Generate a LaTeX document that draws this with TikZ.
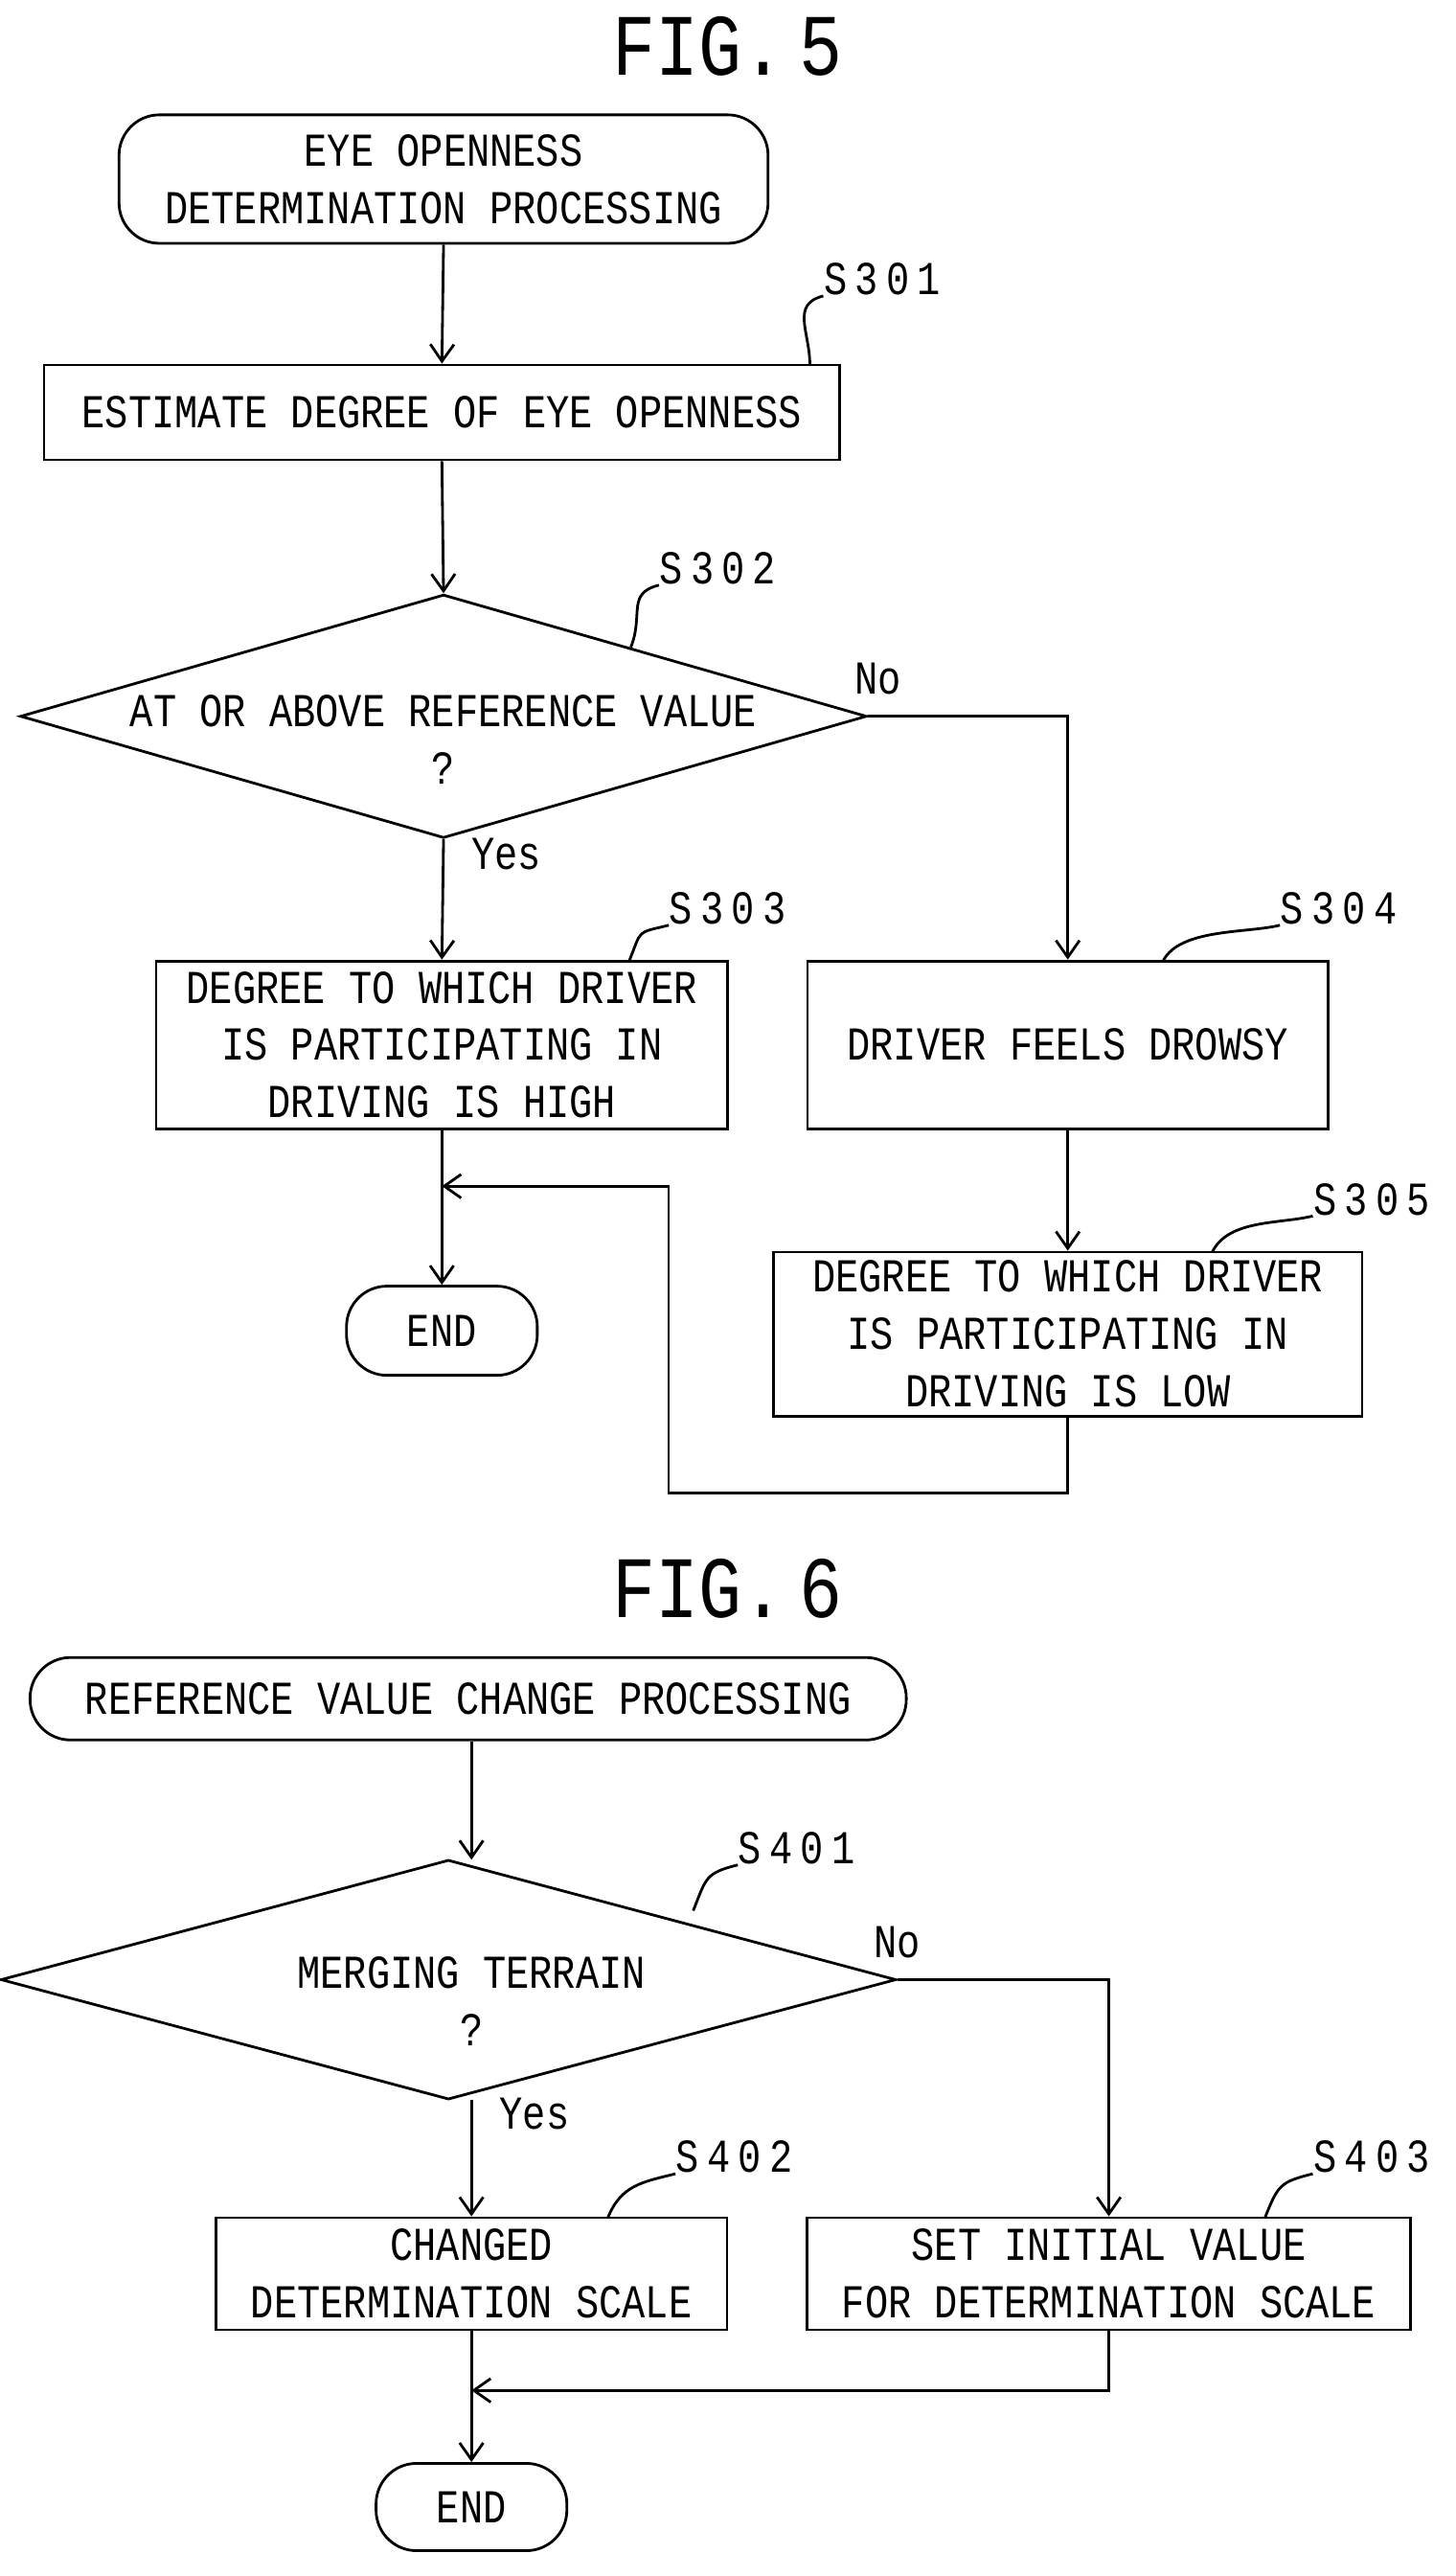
\documentclass[tikz,border=0pt]{standalone}
\usepackage{fontspec}
\setmainfont{Liberation Mono}[FakeStretch=0.82]
\usetikzlibrary{shapes.geometric,arrows.meta}
\begin{document}
\begin{tikzpicture}[x=0.01714cm,y=-0.01714cm,
  every node/.style={font=\fontsize{14}{17}\selectfont,align=center,inner sep=0pt},
  box/.style={draw,line width=0.8pt},
  term/.style={draw,line width=0.8pt,rounded corners=12pt},
  line/.style={line width=0.8pt},
  arr/.style={line width=0.8pt,-{Straight Barb[length=5pt,width=7pt]}},
  lab/.style={font=\fontsize{14}{17}\selectfont},
  fig/.style={font=\fontsize{26}{30}\selectfont}]
\useasboundingbox (0,0) rectangle (886,1568);
% FIG 5
\node[fig] (f5) at (443,28) {FIG.\,5};
\node[term,minimum width=6.77cm,minimum height=1.34cm] (st) at (270,109) {EYE OPENNESS\\DETERMINATION PROCESSING};
\node[box,minimum width=8.3cm,minimum height=0.99cm] (s301) at (269,251) {ESTIMATE DEGREE OF EYE OPENNESS};
\node[draw,diamond,aspect=3.48,line width=0.8pt,minimum width=8.83cm,minimum height=2.54cm] (s302) at (270,436) {};
\node at (270,450) {AT OR ABOVE REFERENCE VALUE\\?};
\node[box,minimum width=5.96cm,minimum height=1.75cm] (s303) at (269,636) {DEGREE TO WHICH DRIVER\\IS PARTICIPATING IN\\DRIVING IS HIGH};
\node[box,minimum width=5.43cm,minimum height=1.75cm] (s304) at (650,636) {DRIVER FEELS DROWSY};
\node[box,minimum width=6.14cm,minimum height=1.71cm] (s305) at (650,812) {DEGREE TO WHICH DRIVER\\IS PARTICIPATING IN\\DRIVING IS LOW};
\node[term,minimum width=1.99cm,minimum height=0.93cm] (e1) at (269,810) {END};
\draw[arr] (st.south) -- (s301.north);
\draw[arr] (s301.south) -- (s302.north);
\draw[arr] (s302.south) -- node[pos=0.12,right=8pt,lab]{Yes} (s303.north);
\draw[arr] (s302.east) -- node[pos=0.05,above=6pt,lab]{No} (s302.east -| s304.north) -- (s304.north);
\draw[arr] (s304.south) -- (s305.north);
\draw[arr] (s303.south) -- (e1.north);
\coordinate (j1) at (269,722);
\draw[arr] (s305.south) -- ++(0,46) -| (407,722) -- (j1);
\node[lab] (l301) at (537,170) {S\,3\,0\,1};
\node[lab] (l302) at (437,346) {S\,3\,0\,2};
\node[lab] (l303) at (443,553) {S\,3\,0\,3};
\node[lab] (l304) at (815,553) {S\,3\,0\,4};
\node[lab] (l305) at (835,730) {S\,3\,0\,5};
\draw[line] (493,222) .. controls +(0,-20) and +(-20,5) .. (l301.south west);
\draw[line] (384,394) .. controls +(8,-20) and +(-20,5) .. (l302.south west);
\draw[line] (383,585) .. controls +(8,-20) and +(-20,5) .. (l303.south west);
\draw[line] (708,585) .. controls +(10,-20) and +(-20,5) .. (l304.south west);
\draw[line] (738,762) .. controls +(10,-20) and +(-20,5) .. (l305.south west);
% FIG 6
\node[fig] (f6) at (443,967) {FIG.\,6};
\node[term,minimum width=9.14cm,minimum height=0.86cm] (st2) at (285,1034) {REFERENCE VALUE CHANGE PROCESSING};
\node[draw,diamond,aspect=3.73,line width=0.8pt,minimum width=9.34cm,minimum height=2.5cm] (s401) at (273,1205) {};
\node at (287,1218) {MERGING TERRAIN\\?};
\node[box,minimum width=5.33cm,minimum height=1.17cm] (s402) at (287,1384) {CHANGED\\DETERMINATION SCALE};
\node[box,minimum width=6.29cm,minimum height=1.17cm] (s403) at (675,1384) {SET INITIAL VALUE\\FOR DETERMINATION SCALE};
\node[term,minimum width=1.99cm,minimum height=0.91cm] (e2) at (287,1526) {END};
\draw[arr] (st2.south -| s402.north) -- (287,1132);
\draw[arr] (287,1278) -- node[pos=0.12,right=8pt,lab]{Yes} (s402.north);
\draw[arr] (s401.east) -- node[pos=0.0,above=6pt,lab]{No} (s401.east -| s403.north) -- (s403.north);
\draw[arr] (s402.south) -- (e2.north);
\coordinate (j2) at (287,1455);
\draw[arr] (s403.south) |- (j2);
\node[lab] (l401) at (485,1125) {S\,4\,0\,1};
\node[lab] (l402) at (447,1313) {S\,4\,0\,2};
\node[lab] (l403) at (835,1313) {S\,4\,0\,3};
\draw[line] (422,1163) .. controls +(8,-20) and +(-20,5) .. (l401.south west);
\draw[line] (370,1350) .. controls +(8,-20) and +(-20,5) .. (l402.south west);
\draw[line] (770,1350) .. controls +(8,-20) and +(-20,5) .. (l403.south west);
\end{tikzpicture}
\end{document}
